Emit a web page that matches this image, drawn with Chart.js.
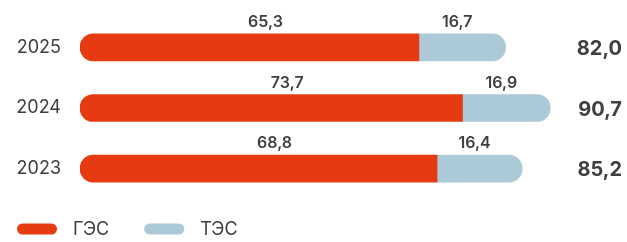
<!DOCTYPE html>
<html>
<head>
<meta charset="utf-8">
<script src="https://cdn.jsdelivr.net/npm/chart.js@4"></script>
<style>
  html, body { margin: 0; padding: 0; background: #ffffff; }
  #wrap { width: 627px; height: 242px; position: relative; }
</style>
</head>
<body>
<div id="wrap"><canvas id="c" width="627" height="242"></canvas></div>
<script>
// ---- data ----
const categories = ['2025', '2024', '2023'];
const gesValues = [65.3, 73.7, 68.8];
const tesValues = [16.7, 16.9, 16.4];
const totalValues = [82.0, 90.7, 85.2];
const seriesNames = ['ГЭС', 'ТЭС'];

const RED = '#E53A12';
const BLUE = '#ABC9D6';
const TEXT = '#3f3f3f';
const FONT = 'Inter, "Open Sans", "DejaVu Sans", sans-serif';

const fmt = v => v.toFixed(1).replace('.', ',');

const labelsPlugin = {
  id: 'valueLabels',
  afterDatasetsDraw(chart) {
    const ctx = chart.ctx;
    ctx.save();
    ctx.fillStyle = TEXT;
    // segment labels above bars
    ctx.font = '600 16px ' + FONT;
    ctx.textAlign = 'center';
    ctx.textBaseline = 'alphabetic';
    const offsets = [16, -5];
    chart.data.datasets.forEach((ds, di) => {
      const meta = chart.getDatasetMeta(di);
      meta.data.forEach((bar, i) => {
        const p = bar.getProps(['x', 'y', 'base', 'height'], true);
        const cx = (p.x + p.base) / 2 + offsets[di];
        const top = p.y - p.height / 2;
        ctx.fillText(fmt(ds.data[i]), cx, top - 7);
      });
    });
    // totals on the right
    ctx.font = '700 20px ' + FONT;
    ctx.textAlign = 'right';
    const meta0 = chart.getDatasetMeta(0);
    meta0.data.forEach((bar, i) => {
      const p = bar.getProps(['y'], true);
      ctx.fillText(fmt(totalValues[i]), chart.chartArea.right + 23, p.y + 7.5);
    });
    ctx.restore();
  }
};

const legendPlugin = {
  id: 'pillLegend',
  afterDraw(chart) {
    const ctx = chart.ctx;
    ctx.save();
    ctx.font = '400 18px ' + FONT;
    ctx.textBaseline = 'middle';
    ctx.textAlign = 'left';
    let x = 17;
    const cy = 229;
    chart.data.datasets.forEach(ds => {
      ctx.fillStyle = ds.backgroundColor;
      ctx.beginPath();
      ctx.roundRect(x, cy - 5.5, 40, 11, 5.5);
      ctx.fill();
      ctx.fillStyle = TEXT;
      const tx = x + 56;
      ctx.fillText(ds.label, tx, cy + 1);
      x = tx + ctx.measureText(ds.label).width + 35;
    });
    ctx.restore();
  }
};

new Chart(document.getElementById('c'), {
  type: 'bar',
  data: {
    labels: categories,
    datasets: [
      {
        label: seriesNames[0],
        data: gesValues,
        backgroundColor: RED,
        borderSkipped: false,
        borderRadius: { topLeft: 13.5, bottomLeft: 13.5, topRight: 0, bottomRight: 0 },
        barThickness: 27
      },
      {
        label: seriesNames[1],
        data: tesValues,
        backgroundColor: BLUE,
        borderSkipped: false,
        borderRadius: { topLeft: 0, bottomLeft: 0, topRight: 13.5, bottomRight: 13.5 },
        barThickness: 27
      }
    ]
  },
  options: {
    indexAxis: 'y',
    responsive: false,
    animation: false,
    devicePixelRatio: 1,
    layout: { padding: { top: 17, bottom: 43, left: 17, right: 28 } },
    plugins: {
      legend: { display: false },
      tooltip: { enabled: false }
    },
    scales: {
      x: {
        stacked: true,
        display: false,
        min: 0,
        max: 100
      },
      y: {
        stacked: true,
        border: { display: false },
        grid: { display: false, drawTicks: false },
        ticks: {
          color: TEXT,
          padding: 19,
          font: { family: FONT, size: 18, weight: '400' }
        },
        afterFit(scale) {
          scale.width = 63;
          scale.paddingTop = 0;
          scale.paddingBottom = 0;
        }
      }
    }
  },
  plugins: [labelsPlugin, legendPlugin]
});
</script>
</body>
</html>
